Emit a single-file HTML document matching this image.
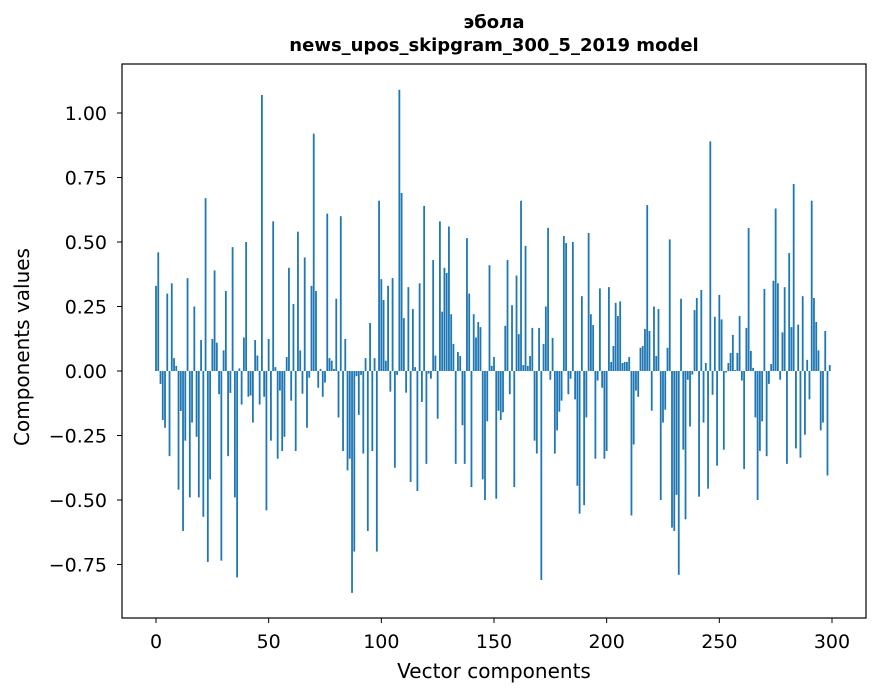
<!DOCTYPE html>
<html><head><meta charset="utf-8"><style>
body{margin:0;background:#fff}
svg{display:block;font-family:"DejaVu Sans","Liberation Sans",sans-serif}
</style></head><body>
<svg id="chart" width="880" height="696" xmlns="http://www.w3.org/2000/svg">
<rect x="0" y="0" width="880" height="696" fill="#fff"/>
<text x="494" y="28" text-anchor="middle" font-size="18" font-weight="bold">эбола</text>
<text x="494" y="51" text-anchor="middle" font-size="18" font-weight="bold">news_upos_skipgram_300_5_2019 model</text>
<g id="bars"></g>
<g id="axes"></g>
<rect x="122" y="64" width="744" height="554" fill="none" stroke="#000" stroke-width="1.2"/>
<text x="494" y="678" text-anchor="middle" font-size="20">Vector components</text>
<text transform="translate(29,347) rotate(-90)" text-anchor="middle" font-size="20">Components values</text>
</svg>
<script>
const values = [0.33,0.46,-0.05,-0.19,-0.22,0.30,-0.33,0.34,0.05,0.02,
-0.46,-0.155,-0.62,-0.27,0.36,-0.49,-0.20,0.25,-0.255,-0.49,
0.12,-0.565,0.67,-0.74,-0.42,0.124,0.39,0.11,-0.09,-0.735,
0.08,0.31,-0.33,-0.085,0.48,-0.49,-0.80,0.01,-0.13,0.13,
0.50,-0.10,-0.095,-0.20,0.12,0.06,-0.13,1.07,-0.10,-0.54,
0.124,-0.27,0.58,0.015,-0.34,-0.076,-0.31,-0.255,0.054,0.40,
-0.115,0.26,-0.31,0.54,0.08,-0.088,0.44,-0.22,-0.026,0.33,
0.92,0.31,-0.065,0.008,-0.10,-0.045,0.61,0.05,0.04,0.008,
0.28,-0.18,0.60,-0.31,0.124,-0.385,-0.34,-0.86,-0.70,-0.02,
-0.17,-0.015,-0.32,0.05,-0.62,0.186,-0.31,0.05,-0.70,0.66,
0.356,0.275,0.04,0.33,-0.08,0.36,-0.375,-0.015,1.09,0.69,
0.205,-0.084,0.325,-0.43,0.24,0.015,-0.465,0.34,-0.12,0.64,
-0.36,-0.01,-0.03,0.43,0.06,-0.185,0.58,0.23,0.40,0.38,
0.56,0.22,0.105,-0.36,0.074,0.058,-0.21,-0.36,0.515,0.30,
-0.45,0.22,0.13,0.19,0.17,-0.42,-0.50,-0.195,0.41,0.02,
0.054,-0.495,-0.154,-0.19,-0.16,0.175,0.43,-0.09,0.255,-0.45,
0.37,0.143,0.66,0.023,0.485,0.02,0.058,0.167,-0.27,-0.32,
0.167,-0.81,0.105,0.25,0.555,-0.034,0.128,-0.32,-0.23,-0.158,
-0.115,0.523,0.496,-0.09,-0.03,0.50,-0.11,-0.445,-0.553,0.29,
-0.52,-0.18,0.535,0.22,0.178,-0.34,-0.037,0.32,-0.065,-0.34,
-0.31,0.325,0.035,0.097,0.264,0.213,0.27,0.031,0.035,0.035,
0.054,-0.56,-0.285,-0.076,-0.10,0.09,0.097,0.163,0.643,0.155,
-0.154,0.25,0.058,0.24,-0.50,-0.20,-0.15,0.09,0.51,-0.607,
-0.62,-0.48,-0.79,0.28,-0.305,-0.575,-0.034,-0.215,-0.014,0.236,
0.283,-0.487,0.314,-0.20,0.031,-0.456,0.89,-0.092,0.21,-0.367,
0.295,0.20,-0.305,-0.006,0.031,0.07,0.14,0.004,0.07,0.213,
-0.037,-0.38,0.167,0.554,0.078,0.012,-0.18,-0.50,-0.31,-0.195,
0.318,-0.33,-0.05,0.027,0.35,0.63,0.34,-0.034,0.15,0.325,
-0.36,0.457,0.17,0.725,-0.30,0.18,-0.336,0.29,-0.247,0.043,
-0.11,0.66,0.283,0.19,0.08,-0.23,-0.20,0.155,-0.405,0.023];
const yTicks = [1.00,0.75,0.50,0.25,0.00,-0.25,-0.50,-0.75];
const yTickLabels = ["1.00","0.75","0.50","0.25","0.00","\u22120.25","\u22120.50","\u22120.75"];
const xTicks = [0,50,100,150,200,250,300];
const xTickLabels = ["0","50","100","150","200","250","300"];

const NS = "http://www.w3.org/2000/svg";
function xScale(v){ return 156 + v*2.2533; }
function yScale(v){ return 371 - v*258; }
const bars = document.getElementById('bars');
values.forEach((v,i)=>{
  const r = document.createElementNS(NS,'rect');
  const y0 = yScale(0), y1 = yScale(v);
  r.setAttribute('x', xScale(i-0.4));
  r.setAttribute('width', 0.8*2.2533);
  r.setAttribute('y', Math.min(y0,y1));
  r.setAttribute('height', Math.max(Math.abs(y1-y0),0.3));
  r.setAttribute('fill', '#1f77b4');
  
  
  bars.appendChild(r);
});
const axes = document.getElementById('axes');
yTicks.forEach((t,i)=>{
  const y = yScale(t);
  const l = document.createElementNS(NS,'line');
  l.setAttribute('x1',117); l.setAttribute('x2',122);
  l.setAttribute('y1',y); l.setAttribute('y2',y);
  l.setAttribute('stroke','#000');
  
  
  axes.appendChild(l);
  const tx = document.createElementNS(NS,'text');
  tx.setAttribute('x',107); tx.setAttribute('y',y+7);
  tx.setAttribute('text-anchor','end'); tx.setAttribute('font-size','19');
  tx.textContent = yTickLabels[i];
  
  
  axes.appendChild(tx);
});
xTicks.forEach((t,i)=>{
  const x = xScale(t);
  const l = document.createElementNS(NS,'line');
  l.setAttribute('x1',x); l.setAttribute('x2',x);
  l.setAttribute('y1',618); l.setAttribute('y2',623);
  l.setAttribute('stroke','#000');
  
  
  axes.appendChild(l);
  const tx = document.createElementNS(NS,'text');
  tx.setAttribute('x',x); tx.setAttribute('y',648);
  tx.setAttribute('text-anchor','middle'); tx.setAttribute('font-size','19');
  tx.textContent = xTickLabels[i];
  
  
  axes.appendChild(tx);
});
</script>
</body></html>
